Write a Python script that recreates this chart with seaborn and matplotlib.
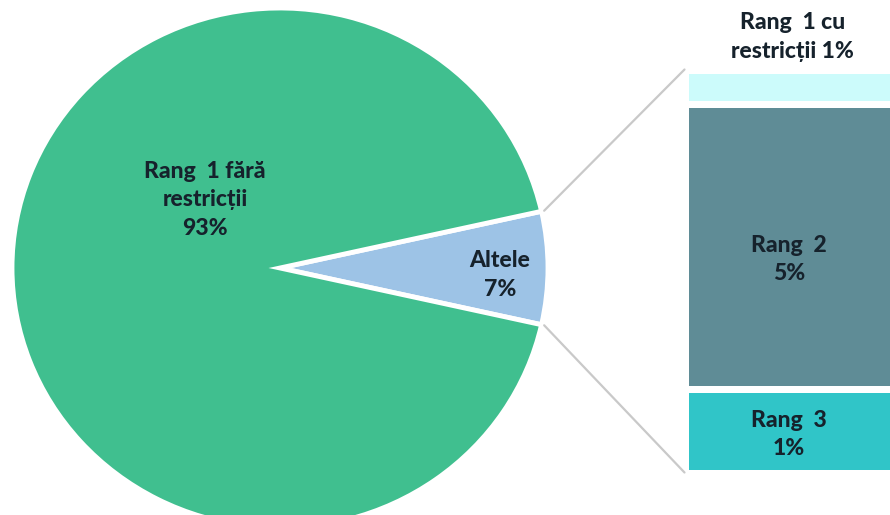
import numpy as np
import pandas as pd
import matplotlib
matplotlib.use("Agg")
import matplotlib.pyplot as plt
from matplotlib.patches import ConnectionPatch
import seaborn as sns

# ---- data ----
pie_labels = ["Altele", "Rang  1 fără\nrestricții"]
pie_values = [7, 93]
pie_pct = ["7%", "93%"]
pie_colors = ["#9dc3e6", "#40bf8f"]

bar_labels = ["Rang  1 cu\nrestricții", "Rang  2", "Rang  3"]
bar_values = [0.6, 4.95, 1.45]
bar_pct = ["1%", "5%", "1%"]
bar_colors = ["#ccfbfb", "#5f8c96", "#30c5c8"]

sns.set_theme(style="white")
plt.rcParams["font.family"] = ["Lato", "DejaVu Sans"]
TXT = "#16222c"

W, H = 890, 515
fig = plt.figure(figsize=(W / 100, H / 100), dpi=100)
fig.patch.set_facecolor("white")

# pie axes spanning whole figure, data units: pie radius = 1
cx, cy, rx, ry = 280, 268, 268, 260
ax = fig.add_axes([0, 0, 1, 1])
start = -pie_values[0] / sum(pie_values) * 360 / 2
wedges, _ = ax.pie(pie_values, colors=pie_colors, startangle=start, counterclock=True,
                   radius=1, wedgeprops=dict(edgecolor="white", linewidth=3.5))
ax.set_aspect("auto")
ax.set_xlim((0 - cx) / rx, (W - cx) / rx)
ax.set_ylim((cy - H) / ry, cy / ry)
ax.axis("off")

def pdata(px, py):
    return (px - cx) / rx, (cy - py) / ry

fs = 16.5
ls = 1.45
x, y = pdata(205, 200)
ax.text(x, y, pie_labels[1] + "\n" + pie_pct[1], ha="center", va="center",
        fontsize=fs, fontweight="black", color=TXT, linespacing=ls)
x, y = pdata(500, 275)
ax.text(x, y, pie_labels[0] + "\n" + pie_pct[0], ha="center", va="center",
        fontsize=fs, fontweight="black", color=TXT, linespacing=ls)

# stacked bar axes
lw_px = 7
bl, br, bt, bb = 688 - lw_px / 2, 893, 73 - lw_px / 2, 469 + lw_px / 2
ax2 = fig.add_axes([bl / W, (H - bb) / H, (br - bl) / W, (bb - bt) / H])
total = sum(bar_values)
# bottom-to-top order is reversed list (Rang 3 at bottom)
order = list(range(len(bar_values)))[::-1]
cums = np.cumsum([bar_values[i] for i in order])
for k in range(len(order) - 1, -1, -1):
    i = order[k]
    df = pd.DataFrame({"cat": [""], "val": [cums[k]]})
    sns.barplot(data=df, x="cat", y="val", color=bar_colors[i], saturation=1,
                width=1, edgecolor="white", linewidth=lw_px * 0.72, ax=ax2)
ax2.set_xlim(-0.5, 0.5)
ax2.set_ylim(0, total)
ax2.axis("off")

ax2.text(0.02, 7.57, bar_labels[0] + " " + bar_pct[0], ha="center", va="center",
         fontsize=fs, fontweight="black", color=TXT, linespacing=ls, clip_on=False)
ax2.text(0.0, 3.7, bar_labels[1] + "\n" + bar_pct[1], ha="center", va="center",
         fontsize=fs, fontweight="black", color=TXT, linespacing=ls)
ax2.text(0.0, 0.66, bar_labels[2] + "\n" + bar_pct[2], ha="center", va="center",
         fontsize=fs, fontweight="black", color=TXT, linespacing=ls)

# connector lines
th1, th2 = wedges[0].theta1, wedges[0].theta2
for th, yb in [(th2, total), (th1, 0)]:
    xa, ya = np.cos(np.radians(th)) * 1.01, np.sin(np.radians(th)) * 1.01
    con = ConnectionPatch(xyA=(xa, ya), coordsA=ax.transData,
                          xyB=(-0.5, yb), coordsB=ax2.transData,
                          color="#c9c9c9", lw=1.6)
    fig.add_artist(con)

fig.savefig("out.png", dpi=100, facecolor="white")
